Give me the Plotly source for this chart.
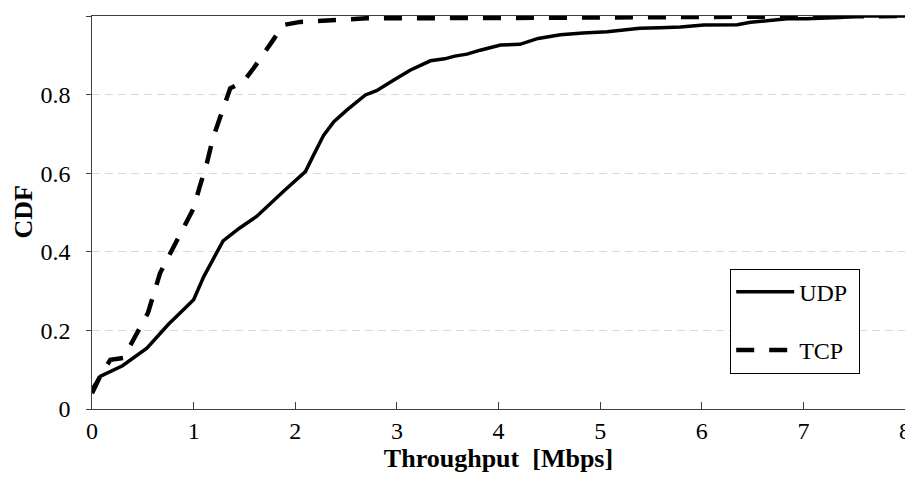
import plotly.graph_objects as go

udp_x = [0, 0.08, 0.3, 0.54, 0.75, 1.0, 1.1, 1.29, 1.45, 1.62, 1.88, 2.02, 2.10, 2.18, 2.28, 2.38,
         2.51, 2.69, 2.80, 2.97, 3.13, 3.33, 3.47, 3.57, 3.69, 3.82, 4.02, 4.21, 4.39, 4.61, 4.83,
         5.07, 5.23, 5.39, 5.59, 5.79, 6.02, 6.35, 6.48, 6.71, 6.84, 7.03, 7.36, 7.55, 8.0]
udp_y = [0.05, 0.083, 0.11, 0.155, 0.215, 0.278, 0.337, 0.428, 0.46, 0.49, 0.553, 0.585, 0.604,
         0.646, 0.697, 0.731, 0.761, 0.799, 0.81, 0.837, 0.862, 0.886, 0.891, 0.898, 0.903, 0.913,
         0.926, 0.928, 0.943, 0.952, 0.957, 0.96, 0.965, 0.969, 0.97, 0.972, 0.977, 0.978, 0.984,
         0.991, 0.993, 0.993, 0.996, 1.0, 1.0]

tcp_x = [0, 0.08, 0.18, 0.31, 0.39, 0.47, 0.55, 0.67, 0.80, 0.88, 1.0, 1.06, 1.13, 1.19, 1.29,
         1.36, 1.49, 1.59, 1.78, 1.88, 2.05, 2.37, 2.70, 4.0, 6.0, 7.0, 8.0]
tcp_y = [0.04, 0.083, 0.125, 0.13, 0.168, 0.206, 0.244, 0.346, 0.409, 0.447, 0.511, 0.566, 0.625,
         0.689, 0.769, 0.816, 0.833, 0.867, 0.938, 0.977, 0.985, 0.99, 0.994, 0.995, 0.997, 1.0, 1.0]

x_ticks = [0, 1, 2, 3, 4, 5, 6, 7, 8]
y_ticks = [0, 0.2, 0.4, 0.6, 0.8, 1]
y_tick_text = ["0", "0.2", "0.4", "0.6", "0.8", "1"]

FONT = "'Liberation Serif', 'Times New Roman', serif"
PAD = "\u00a0\u2009"

fig = go.Figure()
fig.add_trace(go.Scatter(x=udp_x, y=udp_y, mode="lines", name="UDP\u00a0", legendgroup="a",
                         line=dict(color="black", width=3.5)))
fig.add_trace(go.Scatter(x=tcp_x, y=tcp_y, mode="lines", name="TCP\u00a0", legendgroup="b",
                         line=dict(color="black", width=4.5, dash="18px,15px")))

fig.update_layout(
    width=905, height=478,
    margin=dict(l=84, r=8, t=8, b=77),
    paper_bgcolor="white", plot_bgcolor="white",
    font=dict(family=FONT, size=24, color="black"),
    showlegend=True,
    legend=dict(x=0.785, y=0.357, xanchor="left", yanchor="top",
                bordercolor="black", borderwidth=1, bgcolor="white",
                font=dict(family=FONT, size=24, color="black"),
                tracegroupgap=24, itemwidth=58, traceorder="grouped"),
    xaxis=dict(range=[0, 8], tickvals=x_ticks, ticks="inside", ticklen=7, tickcolor="#404040",
               showline=True, linecolor="#404040", linewidth=1, mirror=True,
               showgrid=False, zeroline=False, automargin=False, ticklabeloverflow="allow",
               tickfont=dict(family=FONT, size=24, color="black"),
               title=dict(text="<b>Throughput\u00a0 [Mbps]</b>", standoff=6,
                          font=dict(family=FONT, size=26, color="black"))),
    yaxis=dict(range=[0, 1], tickvals=y_ticks, ticktext=[t + PAD for t in y_tick_text],
               ticks="outside", ticklen=5, tickcolor="#404040",
               showline=True, linecolor="#404040", linewidth=1, mirror=True,
               showgrid=True, gridcolor="#d9d9d9", gridwidth=1, griddash="8px,5px",
               zeroline=False, automargin=False,
               tickfont=dict(family=FONT, size=24, color="black")),
    annotations=[dict(text="<b>CDF</b>", textangle=-90, xref="paper", yref="paper",
                      x=0, y=0.5, xanchor="center", yanchor="middle", xshift=-69,
                      showarrow=False, font=dict(family=FONT, size=26, color="black"))],
)

fig.write_html("out.html")
